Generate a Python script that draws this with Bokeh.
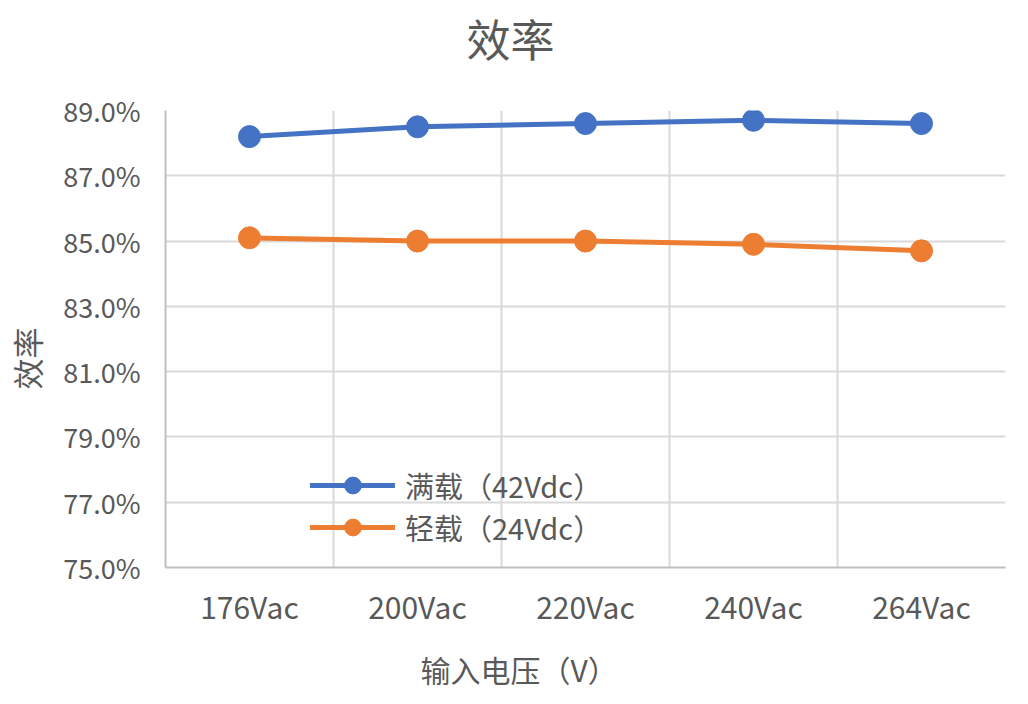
from bokeh.plotting import figure
from bokeh.models import (ColumnDataSource, FactorRange, Range1d, FixedTicker,
                          NumeralTickFormatter, Legend, LegendItem, Title, LinearAxis)
from bokeh.embed import file_html
from bokeh.resources import INLINE

categories = ["176Vac", "200Vac", "220Vac", "240Vac", "264Vac"]
full_load = [88.2, 88.5, 88.6, 88.7, 88.6]     # 满载（42Vdc） efficiency, %
light_load = [85.1, 85.0, 85.0, 84.9, 84.7]    # 轻载（24Vdc） efficiency, %
y_ticks = [75, 77, 79, 81, 83, 85, 87, 89]
series_names = ["满载（42Vdc）", "轻载（24Vdc）"]
chart_title = "效率"
x_title = "输入电压（V）"
y_title = "效率"

FONT = "Noto Sans CJK SC"
TXT = "#595959"
BLUE = "#4472C4"
ORANGE = "#ED7D31"

src = ColumnDataSource(dict(
    cat=categories,
    full=[v / 100 for v in full_load],
    light=[v / 100 for v in light_load],
))

p = figure(
    x_range=FactorRange(factors=categories, range_padding=0),
    y_range=Range1d(y_ticks[0] / 100, y_ticks[-1] / 100),
    frame_width=840, frame_height=457,
    min_border_left=165, min_border_right=23, min_border_top=110, min_border_bottom=137,
    output_backend="svg", toolbar_location=None,
    background_fill_color="white", border_fill_color="white",
    outline_line_color=None,
)

# grids
p.ygrid.ticker = FixedTicker(ticks=[t / 100 for t in y_ticks])
p.xgrid.ticker = FixedTicker(ticks=list(range(len(categories) + 1)))
for g in (p.xgrid, p.ygrid):
    g.grid_line_color = "#d9d9d9"
    g.grid_line_width = 2

# axes
xax = p.xaxis[0]
yax = p.yaxis[0]
yax.ticker = FixedTicker(ticks=[t / 100 for t in y_ticks])
yax.formatter = NumeralTickFormatter(format="0.0%")
for ax in (xax, yax):
    ax.axis_line_color = "#bfbfbf"
    ax.axis_line_width = 2
    ax.major_tick_line_color = None
    ax.minor_tick_line_color = None
    ax.major_label_text_font = FONT
    ax.major_label_text_color = TXT
yax.major_label_text_font_size = "27px"
yax.major_label_standoff = 19
xax.major_label_text_font_size = "30px"
xax.major_label_standoff = 10


def gap(size, tick):
    # blank band: one white tick on white background, no axis line, no visible labels
    return LinearAxis(ticker=FixedTicker(ticks=[tick]), axis_line_color=None,
                      major_tick_line_color="white", major_tick_line_width=1,
                      minor_tick_line_color=None,
                      major_tick_in=0, major_tick_out=size, minor_tick_in=0, minor_tick_out=0,
                      major_label_standoff=0, major_label_text_alpha=0)


def style_title(t, text, font_size, offset):
    t.text = text
    t.align = "left"
    t.offset = offset
    t.standoff = 0
    t.text_font = FONT
    t.text_font_size = font_size
    t.text_font_style = "normal"
    t.text_color = TXT
    return t


# main title (outermost above panel), blank band between it and the frame
style_title(p.title, chart_title, "44px", 301)
p.add_layout(gap(41, 0), "above")

# axis titles
p.add_layout(gap(14, 0), "below")
p.add_layout(style_title(Title(), x_title, "30px", 255), "below")
p.add_layout(gap(12, y_ticks[0] / 100), "left")
p.add_layout(style_title(Title(), y_title, "31px", 178), "left")

# series
l1 = p.line(x="cat", y="full", source=src, line_color=BLUE, line_width=5, line_cap="round", line_join="round")
s1 = p.scatter(x="cat", y="full", source=src, size=22, fill_color=BLUE, line_color=BLUE)
l2 = p.line(x="cat", y="light", source=src, line_color=ORANGE, line_width=5, line_cap="round", line_join="round")
s2 = p.scatter(x="cat", y="light", source=src, size=22, fill_color=ORANGE, line_color=ORANGE)

legend = Legend(
    items=[LegendItem(label=series_names[0], renderers=[l1, s1]),
           LegendItem(label=series_names[1], renderers=[l2, s2])],
    location=(145, 19), glyph_width=85, glyph_height=42,
    label_text_font=FONT, label_text_font_size="29px", label_text_color=TXT,
    label_standoff=10, padding=0, margin=0, spacing=0,
    border_line_color=None, background_fill_alpha=0,
)
p.add_layout(legend)

open("out.html", "w").write(file_html(p, INLINE))
